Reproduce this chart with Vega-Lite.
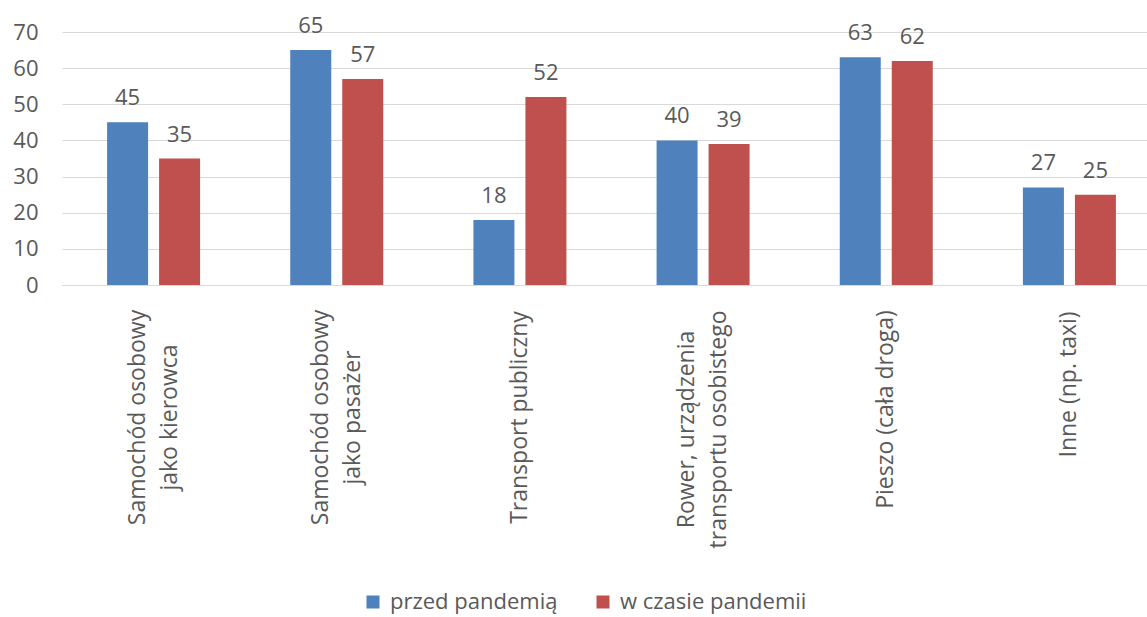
{
  "$schema": "https://vega.github.io/schema/vega-lite/v6.json",
  "width": 1083,
  "height": 253,
  "autosize": {"type": "none"},
  "padding": {"left": 62, "top": 32, "right": 2, "bottom": 332},
  "background": "white",
  "config": {"view": {"stroke": null}, "font": "Open Sans"},
  "data": {
    "values": [
      {"cat": "Samochód osobowy|jako kierowca", "series": "przed pandemią", "value": 45},
      {"cat": "Samochód osobowy|jako kierowca", "series": "w czasie pandemii", "value": 35},
      {"cat": "Samochód osobowy|jako pasażer", "series": "przed pandemią", "value": 65},
      {"cat": "Samochód osobowy|jako pasażer", "series": "w czasie pandemii", "value": 57},
      {"cat": "Transport publiczny", "series": "przed pandemią", "value": 18},
      {"cat": "Transport publiczny", "series": "w czasie pandemii", "value": 52},
      {"cat": "Rower, urządzenia|transportu osobistego", "series": "przed pandemią", "value": 40},
      {"cat": "Rower, urządzenia|transportu osobistego", "series": "w czasie pandemii", "value": 39},
      {"cat": "Pieszo (cała droga)", "series": "przed pandemią", "value": 63},
      {"cat": "Pieszo (cała droga)", "series": "w czasie pandemii", "value": 62},
      {"cat": "Inne (np. taxi)", "series": "przed pandemią", "value": 27},
      {"cat": "Inne (np. taxi)", "series": "w czasie pandemii", "value": 25}
    ]
  },
  "encoding": {
    "x": {
      "field": "cat",
      "type": "nominal",
      "sort": null,
      "scale": {"range": [0, 1099], "paddingInner": 0, "paddingOuter": 0},
      "axis": {
        "title": null,
        "ticks": false,
        "domainColor": "#d9d9d9",
        "domainWidth": 1,
        "labelAngle": -90,
        "labelAlign": "center",
        "labelBaseline": "middle",
        "labelPadding": {
          "condition": [
            {"test": "indexof(datum.value, 'Samochód') === 0", "value": 132},
            {"test": "indexof(datum.value, 'Transport') === 0", "value": 132},
            {"test": "indexof(datum.value, 'Rower') === 0", "value": 144},
            {"test": "indexof(datum.value, 'Pieszo') === 0", "value": 124}
          ],
          "value": 99
        },
        "labelLineHeight": 32,
        "labelFontSize": 23,
        "labelLimit": 400,
        "labelColor": "#595959",
        "labelOffset": {"condition": {"test": "indexof(datum.value, '|') >= 0", "value": -16}, "value": 0},
        "labelExpr": "split(datum.label, '|')"
      }
    },
    "xOffset": {
      "field": "series",
      "type": "nominal",
      "sort": ["przed pandemią", "w czasie pandemii"],
      "scale": {"paddingInner": 0.2115, "paddingOuter": 0.867}
    },
    "y": {
      "field": "value",
      "type": "quantitative",
      "scale": {"domain": [0, 70]},
      "axis": {
        "title": null,
        "domain": false,
        "ticks": false,
        "values": [0, 10, 20, 30, 40, 50, 60, 70],
        "gridColor": "#d9d9d9",
        "gridWidth": 1,
        "labelPadding": 24,
        "labelFontSize": 22,
        "labelColor": "#595959"
      }
    }
  },
  "layer": [
    {
      "mark": {"type": "bar"},
      "encoding": {
        "color": {
          "field": "series",
          "type": "nominal",
          "scale": {"domain": ["przed pandemią", "w czasie pandemii"], "range": ["#4F81BD", "#C0504D"]},
          "legend": {
            "title": null,
            "orient": "none",
            "legendX": 300,
            "legendY": 559,
            "direction": "horizontal",
            "symbolType": "square",
            "symbolSize": 169,
            "symbolStrokeWidth": 0,
            "labelFontSize": 22,
            "labelLimit": 400,
            "labelColor": "#595959",
            "labelOffset": 6,
            "columnPadding": 34
          }
        }
      }
    },
    {
      "mark": {"type": "text", "baseline": "alphabetic", "dy": -17, "fontSize": 22, "color": "#595959"},
      "encoding": {"text": {"field": "value", "type": "quantitative"}}
    }
  ]
}
